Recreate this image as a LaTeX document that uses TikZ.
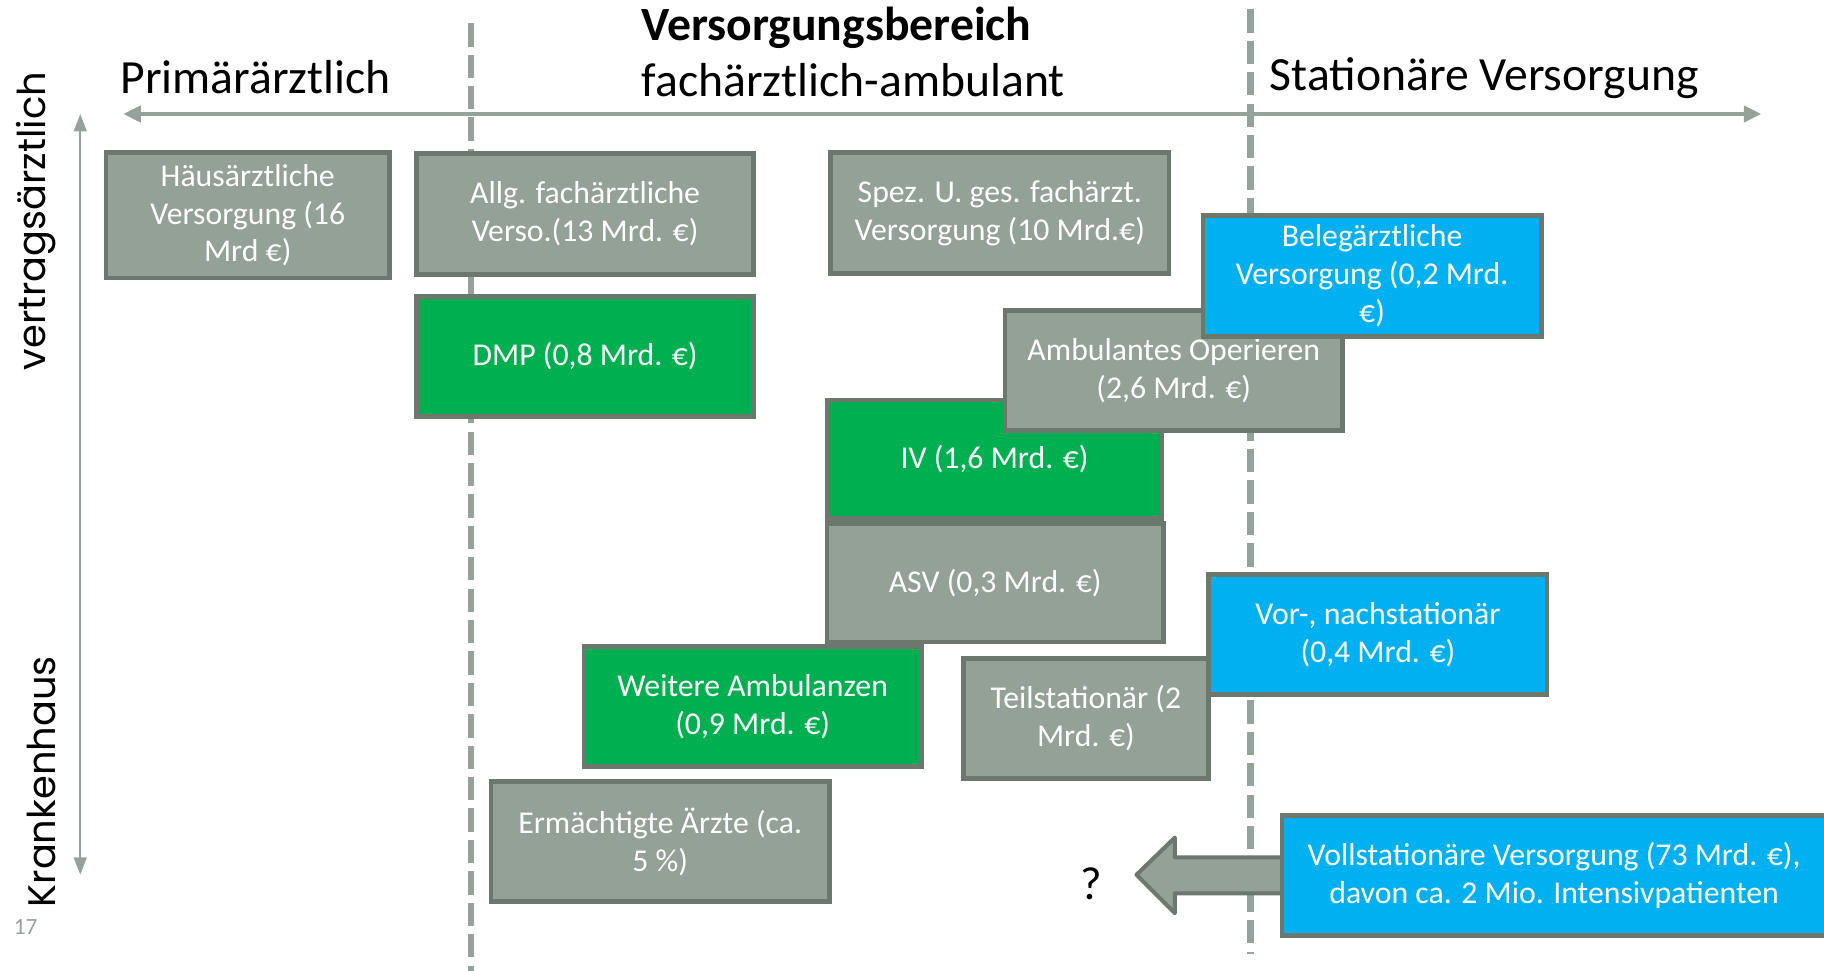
\documentclass[tikz,border=0pt]{standalone}
\usepackage{fontspec}
\setmainfont{Carlito}
\newfontfamily\axisfont{Poppins}
\usetikzlibrary{arrows.meta}

\definecolor{boxgray}{HTML}{93A196}
\definecolor{edgegray}{HTML}{6C776D}
\definecolor{axisgray}{HTML}{94A39A}
\definecolor{greenbox}{HTML}{00B050}
\definecolor{bluebox}{HTML}{00B0F0}

\tikzset{
  card/.style={draw=edgegray, line width=4pt, text=white, align=center,
    font=\fontsize{27.3}{32.5}\selectfont, inner sep=0pt},
  graycard/.style={card, fill=boxgray},
  greencard/.style={card, fill=greenbox},
  bluecard/.style={card, fill=bluebox},
  divider/.style={draw=axisgray, line width=5.5pt, dash pattern=on 20pt off 7pt},
  axisline/.style={draw=axisgray, line width=3pt,
    {Triangle[length=15pt,width=14pt]}-{Triangle[length=15pt,width=14pt]}},
  vaxisline/.style={draw=axisgray, line width=2pt,
    {Triangle[length=15pt,width=11pt]}-{Triangle[length=15pt,width=11pt]}},
  heading/.style={font=\fontsize{41}{48}\selectfont, anchor=base west},
  sidelabel/.style={font=\axisfont\fontsize{33}{38}\selectfont, rotate=90},
}

\begin{document}
\begin{tikzpicture}[x=1pt,y=-1pt]
  \useasboundingbox (0,0) rectangle (1568,834);
  \clip (0,0) rectangle (1568,834);

  % column separators
  \coordinate (d1top) at (405,20);
  \coordinate (d1bot) at (405,840);
  \coordinate (d2top) at (1075,8);
  \coordinate (d2bot) at (1075,820);
  \draw[divider] (d1top) -- (d1bot);
  \draw[divider] (d2top) -- (d2bot);

  % axes
  \coordinate (hl) at (106,98);
  \coordinate (hr) at (1514,98);
  \draw[axisline] (hl) -- (hr);
  \coordinate (vt) at (69,98);
  \coordinate (vb) at (69,752);
  \draw[vaxisline] (vt) -- (vb);

  % headings
  \node[heading, font=\bfseries\fontsize{41}{48}\selectfont] (title) at (548,35) {Versorgungsbereich};
  \node[heading] (fach) at (548,83) {fachärztlich-ambulant};
  \node[heading] (prim) at (100,80) {Primärärztlich};
  \node[heading] (stat) at (1088,78) {Stationäre Versorgung};
  \node[sidelabel] (vertrag) at (31,190) {vertragsärztlich};
  \node[sidelabel] (kh) at (36,672) {Krankenhaus};
  \node[text=axisgray, font=\fontsize{20}{22}\selectfont] (page) at (22,797) {17};

  % care sectors
  \node[graycard, minimum width=244pt, minimum height=108pt] (haus) at (213,185)
    {Häusärztliche\\Versorgung (16\\Mrd €)};
  \node[graycard, minimum width=290pt, minimum height=104pt] (allg) at (503,184)
    {Allg. fachärztliche\\Verso.(13 Mrd. €)};
  \node[graycard, minimum width=291pt, minimum height=104pt] (spez) at (859.5,183)
    {Spez. U. ges. fachärzt.\\Versorgung (10 Mrd.€)};
  \node[greencard, minimum width=290pt, minimum height=103pt] (dmp) at (503,306.5)
    {DMP (0,8 Mrd. €)};
  \node[greencard, minimum width=288pt, minimum height=102pt] (iv) at (855,395)
    {IV (1,6 Mrd. €)};
  \node[graycard, minimum width=290pt, minimum height=103pt] (ambop) at (1009,318.5)
    {Ambulantes Operieren\\(2,6 Mrd. €)};
  \node[bluecard, minimum width=291pt, minimum height=104pt] (beleg) at (1179.5,237)
    {Belegärztliche\\Versorgung (0,2 Mrd.\\€)};
  \node[graycard, minimum width=289pt, minimum height=102pt] (asv) at (855.5,501)
    {ASV (0,3 Mrd. €)};
  \node[greencard, minimum width=290pt, minimum height=103pt] (weitere) at (647,607.5)
    {Weitere Ambulanzen\\(0,9 Mrd. €)};
  \node[graycard, minimum width=211pt, minimum height=103pt] (teil) at (933.5,617.5)
    {Teilstationär (2\\Mrd. €)};
  \node[bluecard, minimum width=291pt, minimum height=103pt] (vornach) at (1184.5,545.5)
    {Vor-, nachstationär\\(0,4 Mrd. €)};
  \node[graycard, minimum width=291pt, minimum height=103pt] (erm) at (567.5,723.5)
    {Ermächtigte Ärzte (ca.\\5 \%)};

  % shift arrow out of inpatient care
  \draw[draw=edgegray, fill=boxgray, line width=3.5pt, line join=round]
    (977,752) -- (1010,720) -- (1010,737) -- (1104,737) -- (1104,768)
    -- (1010,768) -- (1010,785) -- cycle;
  \node[bluecard, minimum width=468pt, minimum height=103pt] (voll) at (1336,752.5)
    {Vollstationäre Versorgung (73 Mrd. €),\\davon ca. 2 Mio. Intensivpatienten};
  \node[font=\fontsize{40}{44}\selectfont] (q) at (938,760) {?};
\end{tikzpicture}
\end{document}
